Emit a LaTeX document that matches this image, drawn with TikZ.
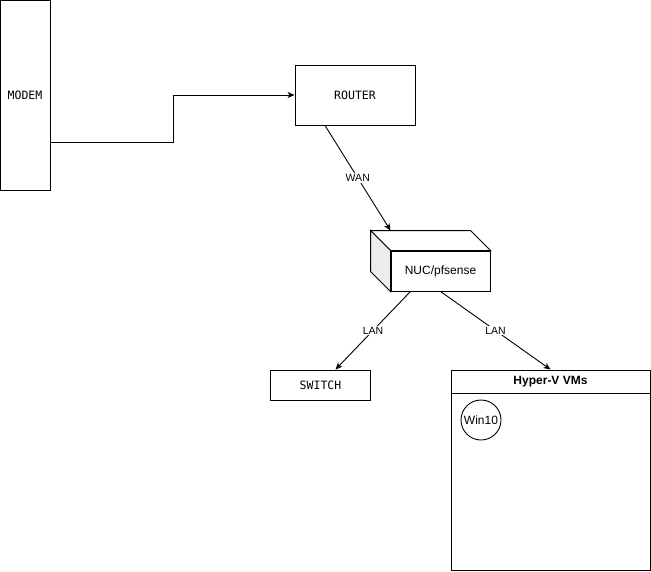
\documentclass[tikz,border=0pt]{standalone}
\usepackage{fontspec}
\setmainfont{Liberation Sans}
\setmonofont{DejaVu Sans Mono}
\usepackage{tikz}
\usetikzlibrary{positioning, arrows.meta, calc}

\begin{document}
\begin{tikzpicture}[x=1pt, y=-1pt, >={Stealth[length=7pt,width=6pt,inset=2pt]},
            every path/.style={line width=0.9pt},
            box/.style={draw, fill=white, inner sep=0pt, font=\ttfamily\fontsize{11.5}{13}\selectfont},
            link/.style={->},
            lbl/.style={fill=white, inner sep=1pt, font=\fontsize{10.5}{12}\selectfont}]
          \useasboundingbox (0,0) rectangle (651,571);
          \node[box, minimum width=50pt, minimum height=190pt] (modem) at (25,95.5) {MODEM};
          \node[box, minimum width=120pt, minimum height=60pt] (router) at (355,95) {ROUTER};
          \node[box, minimum width=100pt, minimum height=30pt] (switch) at (320.5,385) {SWITCH};
          % cube for the nuc
          \node[draw, fill=white, minimum width=99pt, minimum height=40pt,
                font=\fontsize{12}{14}\selectfont] (nuc) at (440.5,271) {NUC/pfsense};
          \draw[fill=white] (nuc.north west) -- ++(-20,-20)
                -- ([xshift=-20pt,yshift=20pt]nuc.north east) -- (nuc.north east) -- cycle;
          \draw[fill=gray!15] (nuc.north west) -- ++(-20,-20)
                -- ([xshift=-20pt,yshift=20pt]nuc.south west) -- (nuc.south west) -- cycle;
          % hyper-v container
          \node[draw, minimum width=199pt, minimum height=200pt] (vms) at (550.5,470) {};
          \node[draw, minimum width=199pt, minimum height=23pt, anchor=north,
                font=\bfseries\fontsize{12}{14}\selectfont] (vmshead) at (vms.north) {Hyper-V VMs};
          \node[draw, circle, minimum size=40pt, inner sep=0pt,
                font=\fontsize{12}{14}\selectfont] (win) at (481,420) {Win10};
          \draw[link] ([yshift=-46.5pt]modem.east) -- ++(123,0) |- (router.west);
          \draw[link] ([xshift=-30pt]router.south) -- node[lbl] {WAN} ([yshift=20pt]nuc.north west);
          \draw[link] ([xshift=-30pt]nuc.south) -- node[lbl] {LAN} ([xshift=15pt]switch.north);
          \draw[link] (nuc.south) -- node[lbl] {LAN} (vms.north);
        \end{tikzpicture}
\end{document}
